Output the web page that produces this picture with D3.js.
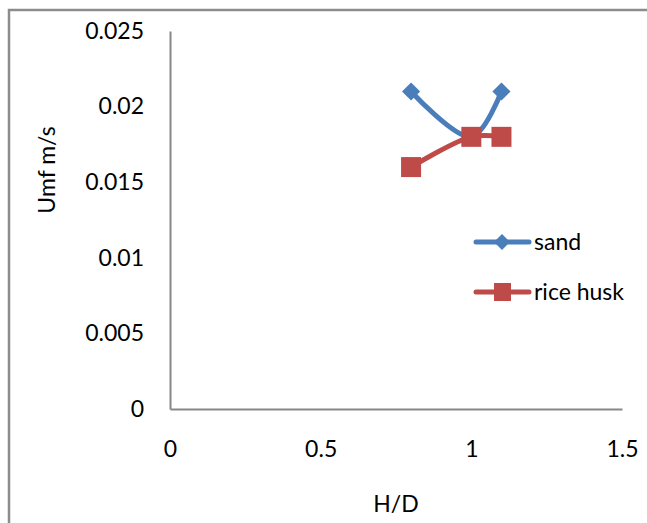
<!DOCTYPE html>
<html>
<head>
<meta charset="utf-8">
<script src="https://cdn.jsdelivr.net/npm/d3@7"></script>
<style>
  html, body { margin: 0; padding: 0; background: #fff; }
  svg { display: block; }
  text { font-family: Lato, "Open Sans", sans-serif; fill: #000; }
</style>
</head>
<body>
<svg id="chart" width="647" height="523"></svg>
<script>
// H/D ratio on x, minimum fluidisation velocity on y
const hd = [0.8, 1.0, 1.1];
const sand = [0.021, 0.018, 0.021];
const riceHusk = [0.016, 0.018, 0.018];
const xTicks = [0, 0.5, 1, 1.5];
const yTicks = [0, 0.005, 0.01, 0.015, 0.02, 0.025];
const seriesNames = ["sand", "rice husk"];

const svg = d3.select("#chart");
const W = 647, H = 523;

// outer frame
svg.append("rect")
  .attr("x", 9).attr("y", 10)
  .attr("width", W + 10).attr("height", H + 10)
  .attr("fill", "none").attr("stroke", "#8c8c8c").attr("stroke-width", 2.5);

const x = d3.scaleLinear().domain([0, 1.5]).range([170, 622]);
const y = d3.scaleLinear().domain([0, 0.025]).range([409, 31]);

const fontSize = 23;

// axes
const xAxis = d3.axisBottom(x).tickValues(xTicks).tickSize(0).tickPadding(32)
  .tickFormat(d3.format("~g"));
const gx = svg.append("g").attr("transform", `translate(0,${y(0)})`).call(xAxis);
gx.select(".domain").attr("stroke", "#888").attr("stroke-width", 2);
gx.selectAll("text").style("font-size", fontSize + "px").attr("fill", "#000");

const yAxis = d3.axisLeft(y).tickValues(yTicks).tickSize(0).tickPadding(26)
  .tickFormat(d => d === 0 ? "0" : String(+d.toFixed(3)));
const gy = svg.append("g").attr("transform", `translate(${x(0)},0)`).call(yAxis);
gy.select(".domain").attr("stroke", "#888").attr("stroke-width", 2);
gy.selectAll("text").style("font-size", fontSize + "px").attr("fill", "#000");

// axis titles
svg.append("text").attr("x", 396).attr("y", 512)
  .attr("text-anchor", "middle").style("font-size", fontSize + "px").text("H/D");
svg.append("text")
  .attr("transform", `translate(55,${170}) rotate(-90)`)
  .attr("text-anchor", "middle").style("font-size", fontSize + "px").text("Umf m/s");

const blue = "#4a7ebb", red = "#be4b48";

const line = d3.line().x(d => x(d[0])).y(d => y(d[1])).curve(d3.curveCatmullRom.alpha(0.5));

const sandPts = hd.map((h, i) => [h, sand[i]]);
const ricePts = hd.map((h, i) => [h, riceHusk[i]]);

svg.append("path").datum(sandPts).attr("d", line)
  .attr("fill", "none").attr("stroke", blue).attr("stroke-width", 5).attr("stroke-linecap", "round");
svg.append("path").datum(ricePts).attr("d", line)
  .attr("fill", "none").attr("stroke", red).attr("stroke-width", 5).attr("stroke-linecap", "round");

// diamond markers: rotated squares
svg.selectAll(".sand-pt").data(sandPts).enter().append("path")
  .attr("d", d3.symbol().type(d3.symbolSquare).size(165))
  .attr("transform", d => `translate(${x(d[0])},${y(d[1])}) rotate(45)`)
  .attr("fill", blue);

svg.selectAll(".rice-pt").data(ricePts).enter().append("rect")
  .attr("x", d => x(d[0]) - 10).attr("y", d => y(d[1]) - 10)
  .attr("width", 20).attr("height", 20)
  .attr("fill", red);

// legend
const legend = svg.append("g");
const legY = [242, 292];
const colors = [blue, red];
seriesNames.forEach((name, i) => {
  const g = legend.append("g").attr("transform", `translate(0,${legY[i]})`);
  g.append("line").attr("x1", 476).attr("x2", 529).attr("y1", 0).attr("y2", 0)
    .attr("stroke", colors[i]).attr("stroke-width", 5).attr("stroke-linecap", "round");
  if (i === 0) {
    g.append("path").attr("d", d3.symbol().type(d3.symbolSquare).size(130))
      .attr("transform", "translate(502,0) rotate(45)").attr("fill", colors[i]);
  } else {
    g.append("rect").attr("x", 494).attr("y", -9).attr("width", 17).attr("height", 18)
      .attr("fill", colors[i]);
  }
  g.append("text").attr("x", 534).attr("y", 0).attr("dy", "0.35em")
    .style("font-size", fontSize + "px").text(name);
});
</script>
</body>
</html>
